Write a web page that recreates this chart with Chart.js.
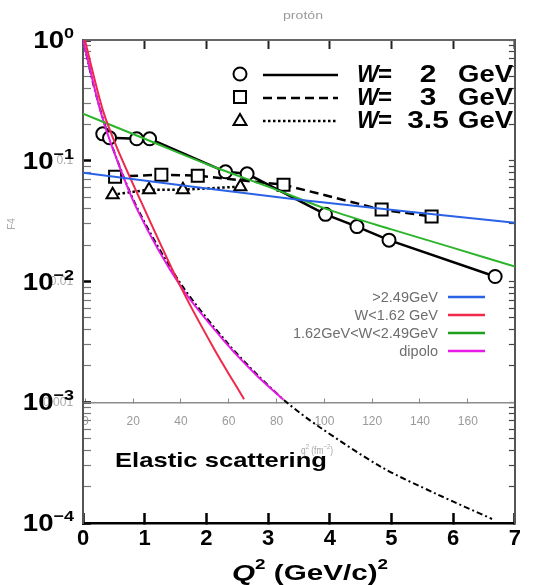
<!DOCTYPE html>
<html>
<head>
<meta charset="utf-8">
<script src="https://cdn.jsdelivr.net/npm/chart.js@4.4.1/dist/chart.umd.min.js"></script>
<style>
  html, body { margin: 0; padding: 0; background: #fff; }
  canvas { display: block; }
</style>
</head>
<body>
<canvas id="protonChart" width="534" height="585"></canvas>
<script>
// W = 2 GeV (circles)
const w2Q = [0.32, 0.43, 0.87, 1.08, 2.31, 2.66, 3.93, 4.44, 4.96, 6.68];
const w2F = [0.167, 0.155, 0.152, 0.152, 0.081, 0.078, 0.036, 0.0285, 0.022, 0.011];
// W = 3 GeV (squares)
const w3Q = [0.52, 1.27, 1.86, 3.25, 4.84, 5.65];
const w3F = [0.0738, 0.0766, 0.0752, 0.0633, 0.0394, 0.0345];
// W = 3.5 GeV (triangles)
const w35Q = [0.48, 1.07, 1.62, 2.55];
const w35F = [0.0524, 0.0576, 0.0576, 0.061];
// elastic scattering (dash-dot)
const elQ = [0, 0.2, 0.45, 0.875, 1.59, 2.34, 2.82, 3.3, 3.82, 4.84, 5.73, 6.63];
const elF = [1.0, 0.37, 0.142, 0.041, 0.0095, 0.0031, 0.0017, 0.001, 0.00063, 0.00029, 0.000174, 0.000108];
// >2.49GeV
const blueQ = [0, 3.5, 7];
const blueF = [0.0796, 0.0476, 0.0307];
// W<1.62 GeV
const redQ = [0.03, 0.32, 0.56, 1.0, 1.59, 2.13, 2.61];
const redF = [1.0, 0.264, 0.125, 0.0394, 0.0089, 0.00274, 0.00106];
// 1.62GeV<W<2.49GeV
const greenQ = [0, 1, 2, 3, 4, 5, 6, 7];
const greenF = [0.245, 0.152, 0.094, 0.061, 0.039, 0.027, 0.019, 0.0133];
// dipolo
const dipQ = [0, 0.27, 0.45, 0.875, 1.59, 2.34, 2.82, 3.25];
const dipF = [1.0, 0.272, 0.14, 0.0398, 0.0090, 0.0030, 0.00166, 0.00105];

// ticks
const xTicks = [0, 1, 2, 3, 4, 5, 6, 7];
const qTicks = [0, 20, 40, 60, 80, 100, 120, 140, 160];
const yDecades = [1e-4, 1e-3, 1e-2, 1e-1, 1];
const yExpLabels = ['\u22124', '\u22123', '\u22122', '\u22121', '0'];
const minorSteps = [2, 3, 4, 5, 6, 7, 8, 9];
const innerYTicks = [0.001, 0.01, 0.1];
const innerYLabels = ['0.001', '0.01', '0.1'];

const FONT = "'Liberation Sans', Arial, Helvetica, sans-serif";
Chart.defaults.font.family = FONT;

const pts = (xs, ys) => xs.map((x, i) => ({x: x, y: ys[i]}));

function logTicks() {
  const out = [];
  yDecades.forEach((d, i) => {
    out.push({value: d, major: true});
    if (i < yDecades.length - 1) minorSteps.forEach(m => out.push({value: d * m, major: false}));
  });
  return out;
}

// draws a row of text pieces, stretched horizontally
function drawRuns(ctx, runs, x, y, opt) {
  ctx.save();
  ctx.textBaseline = 'alphabetic';
  ctx.textAlign = 'left';
  let total = 0;
  runs.forEach(r => { ctx.font = r.font; r.w = ctx.measureText(r.t).width; total += r.w; });
  const sx = opt.width ? opt.width / total : (opt.sx || 1);
  let x0 = x;
  if (opt.align === 'right') x0 = x - total * sx;
  if (opt.align === 'center') x0 = x - total * sx / 2;
  ctx.fillStyle = opt.color || '#000';
  ctx.translate(x0, y);
  ctx.scale(sx, 1);
  let cx = 0;
  runs.forEach(r => {
    ctx.font = r.font;
    ctx.fillText(r.t, cx, r.dy || 0);
    cx += r.w;
  });
  ctx.restore();
}

function marker(ctx, style, x, y) {
  ctx.save();
  ctx.lineWidth = 2;
  ctx.strokeStyle = '#000';
  ctx.fillStyle = '#fff';
  ctx.beginPath();
  if (style === 'circle') ctx.arc(x, y, 6.5, 0, Math.PI * 2);
  if (style === 'rect') ctx.rect(x - 6, y - 6, 12, 12);
  if (style === 'triangle') { ctx.moveTo(x, y - 6); ctx.lineTo(x + 6.5, y + 5); ctx.lineTo(x - 6.5, y + 5); ctx.closePath(); }
  ctx.fill();
  ctx.stroke();
  ctx.restore();
}

const annotations = {
  id: 'annotations',
  afterDraw(chart) {
    const ctx = chart.ctx;
    const ys = chart.scales.y;

    // y decade labels 10^n
    yDecades.forEach((v, i) => {
      const py = ys.getPixelForValue(v);
      drawRuns(ctx, [
        {t: '10', font: 'bold 23px ' + FONT, dy: 8},
        {t: yExpLabels[i], font: 'bold 15px ' + FONT, dy: -2}
      ], 74, py, {align: 'right', sx: 1.2});
    });

    // x axis title
    drawRuns(ctx, [
      {t: 'Q', font: 'italic bold 22px ' + FONT},
      {t: '2', font: 'bold 14px ' + FONT, dy: -11},
      {t: ' (GeV/c)', font: 'bold 22px ' + FONT},
      {t: '2', font: 'bold 14px ' + FONT, dy: -11}
    ], 232, 580, {width: 156});

    // title of the inner plot
    drawRuns(ctx, [{t: 'prot\u00f3n', font: '11px ' + FONT}], 303, 19, {align: 'center', width: 40, color: '#9a9a9a'});

    // inner axis titles
    drawRuns(ctx, [
      {t: 'q', font: '10px ' + FONT},
      {t: '2', font: '7px ' + FONT, dy: -5},
      {t: ' (fm', font: '10px ' + FONT},
      {t: '\u22122', font: '7px ' + FONT, dy: -5},
      {t: ')', font: '10px ' + FONT}
    ], 317, 454, {align: 'center', width: 32, color: '#a8a8a8'});
    ctx.save();
    ctx.translate(15, 224);
    ctx.rotate(-Math.PI / 2);
    drawRuns(ctx, [{t: 'F4', font: '10px ' + FONT}], 0, 0, {align: 'center', color: '#aaaaaa'});
    ctx.restore();

    // Elastic scattering
    drawRuns(ctx, [{t: 'Elastic scattering', font: 'bold 21px ' + FONT}], 115, 467, {width: 212});

    // black legend
    const rows = [
      {style: 'circle', dash: [], num: '2', y: 74},
      {style: 'rect', dash: [9, 5], num: '3', y: 97},
      {style: 'triangle', dash: [2.5, 2.5], num: '3.5', y: 120}
    ];
    rows.forEach(r => {
      marker(ctx, r.style, 240, r.y);
      ctx.save();
      ctx.strokeStyle = '#000';
      ctx.lineWidth = 2.5;
      ctx.setLineDash(r.dash);
      ctx.beginPath();
      ctx.moveTo(263, r.y + 1);
      ctx.lineTo(338, r.y + 1);
      ctx.stroke();
      ctx.restore();
      drawRuns(ctx, [{t: 'W', font: 'italic bold 23px ' + FONT}], 357, r.y + 8, {sx: 1});
      drawRuns(ctx, [{t: '=', font: 'bold 23px ' + FONT}], 378, r.y + 8, {sx: 1.05});
      drawRuns(ctx, [{t: r.num, font: 'bold 23px ' + FONT}], 428, r.y + 8, {align: 'center', sx: 1.3});
      drawRuns(ctx, [{t: 'GeV', font: 'bold 23px ' + FONT}], 458, r.y + 8, {width: 55});
    });

    // coloured legend
    const cl = [
      {t: '>2.49GeV', c: '#2a62e6', y: 302},
      {t: 'W<1.62 GeV', c: '#f0284a', y: 320},
      {t: '1.62GeV<W<2.49GeV', c: '#1f9e1f', y: 338},
      {t: 'dipolo', c: '#e619e6', y: 356}
    ];
    cl.forEach(r => {
      drawRuns(ctx, [{t: r.t, font: '14.5px ' + FONT}], 438, r.y, {align: 'right', color: '#6e6e6e'});
      ctx.save();
      ctx.strokeStyle = r.c;
      ctx.lineWidth = 2.5;
      ctx.beginPath();
      ctx.moveTo(448, r.y - 5);
      ctx.lineTo(485, r.y - 5);
      ctx.stroke();
      ctx.restore();
    });
  }
};

const black = {
  borderColor: '#000',
  pointBorderColor: '#000',
  pointBackgroundColor: '#fff',
  pointBorderWidth: 2,
  showLine: true,
  borderWidth: 2.5,
  order: 2
};
const smooth = {pointRadius: 0, showLine: true, borderWidth: 2, tension: 0.3, order: 1};

new Chart('protonChart', {
  type: 'scatter',
  data: {
    datasets: [
      Object.assign({label: 'W = 2 GeV', data: pts(w2Q, w2F), pointStyle: 'circle', pointRadius: 6.5}, black),
      Object.assign({label: 'W = 3 GeV', data: pts(w3Q, w3F), pointStyle: 'rect', pointRadius: 8.5, borderDash: [9, 5]}, black),
      Object.assign({label: 'W = 3.5 GeV', data: pts(w35Q, w35F), pointStyle: 'triangle', pointRadius: 7, borderDash: [2.5, 2.5]}, black),
      Object.assign({}, smooth, {label: 'Elastic scattering', data: pts(elQ, elF), borderColor: '#000', borderDash: [6, 3, 2, 3], order: 3}),
      Object.assign({}, smooth, {label: '>2.49GeV', data: pts(blueQ, blueF), borderColor: '#2a62e6'}),
      Object.assign({}, smooth, {label: 'W<1.62 GeV', data: pts(redQ, redF), borderColor: '#f0284a'}),
      Object.assign({}, smooth, {label: '1.62GeV<W<2.49GeV', data: pts(greenQ, greenF), borderColor: '#2cb52c'}),
      Object.assign({}, smooth, {label: 'dipolo', data: pts(dipQ, dipF), borderColor: '#e619e6'})
    ]
  },
  options: {
    responsive: false,
    animation: false,
    layout: {padding: 0},
    plugins: {legend: {display: false}, tooltip: {enabled: false}},
    scales: {
      x: {
        type: 'linear', position: 'bottom', min: 0, max: 7,
        afterBuildTicks: s => { s.ticks = xTicks.map(v => ({value: v})); },
        afterFit: s => { s.height = 62; },
        ticks: {color: '#000', font: {size: 22, weight: 'bold'}, padding: 13, autoSkip: false, maxRotation: 0},
        grid: {drawOnChartArea: false, tickLength: -10, tickWidth: 2.5, tickColor: '#000'},
        border: {color: '#000', width: 2.5}
      },
      xTop: {
        type: 'linear', position: 'top', min: 0, max: 7,
        afterBuildTicks: s => { s.ticks = xTicks.map(v => ({value: v})); },
        afterFit: s => { s.height = 40; },
        ticks: {display: false},
        grid: {drawOnChartArea: false, tickLength: -9, tickWidth: 2, tickColor: '#222'},
        border: {color: '#666', width: 2}
      },
      x2: {
        type: 'linear', position: {y: 0.001}, min: -1, max: 179.7,
        afterBuildTicks: s => { s.ticks = qTicks.map(v => ({value: v})); },
        ticks: {color: '#9a9a9a', font: {size: 12}, padding: 17, autoSkip: false, maxRotation: 0},
        grid: {drawOnChartArea: false, tickLength: -5, tickWidth: 1, tickColor: '#888'},
        border: {color: '#8c8c8c', width: 1.5}
      },
      y: {
        type: 'logarithmic', position: 'left', min: 1e-4, max: 1,
        afterBuildTicks: s => { s.ticks = logTicks(); },
        afterFit: s => { s.width = 83; },
        ticks: {display: false, autoSkip: false},
        grid: {
          drawOnChartArea: false, tickLength: -8,
          tickWidth: c => (c.tick && c.tick.major ? 2.5 : 1.2),
          tickColor: c => (c.tick && c.tick.major ? '#000' : '#777')
        },
        border: {color: '#555', width: 2}
      },
      y2: {
        type: 'logarithmic', position: {x: -0.16}, min: 1e-4, max: 1,
        afterBuildTicks: s => { s.ticks = innerYTicks.map(v => ({value: v})); },
        ticks: {
          color: '#aaaaaa', font: {size: 12}, padding: 0, autoSkip: false,
          callback: (v, i) => innerYLabels[i]
        },
        grid: {display: false, drawTicks: false},
        border: {display: false}
      },
      yR: {
        type: 'logarithmic', position: 'right', min: 1e-4, max: 1,
        afterBuildTicks: s => { s.ticks = logTicks(); },
        afterFit: s => { s.width = 11; },
        ticks: {display: false, autoSkip: false},
        grid: {drawOnChartArea: false, tickLength: -6, tickWidth: 1.2, tickColor: '#444'},
        border: {color: '#555', width: 2}
      }
    }
  },
  plugins: [annotations]
});
</script>
</body>
</html>
